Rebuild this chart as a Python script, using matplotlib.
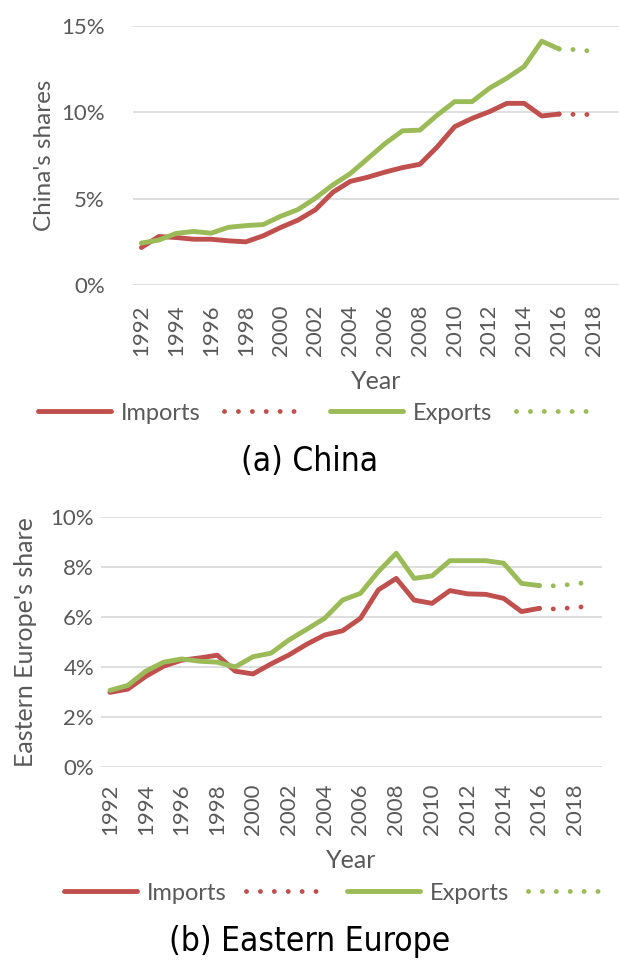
import numpy as np
import matplotlib.pyplot as plt
from matplotlib.ticker import PercentFormatter

# data (shares in %)
years = list(range(1992, 2017))

china_imports = [2.17, 2.81, 2.75, 2.65, 2.65, 2.56, 2.50, 2.85, 3.33, 3.76, 4.36, 5.37, 6.00,
                 6.24, 6.54, 6.80, 6.99, 8.00, 9.17, 9.65, 10.04, 10.52, 10.52, 9.79, 9.90]
china_exports = [2.43, 2.60, 2.99, 3.10, 3.00, 3.34, 3.44, 3.50, 3.98, 4.37, 5.03, 5.80, 6.45,
                 7.32, 8.19, 8.93, 8.97, 9.84, 10.62, 10.62, 11.40, 11.98, 12.66, 14.12, 13.67]
china_proj_years = [2016, 2017, 2018]
china_imports_proj = [9.90, 9.88, 9.87]
china_exports_proj = [13.67, 13.63, 13.53]

ee_imports = [2.98, 3.11, 3.62, 4.03, 4.27, 4.36, 4.47, 3.83, 3.72, 4.12, 4.48, 4.91, 5.28,
              5.45, 5.95, 7.09, 7.55, 6.68, 6.55, 7.06, 6.93, 6.91, 6.75, 6.22, 6.35]
ee_exports = [3.06, 3.26, 3.83, 4.19, 4.32, 4.23, 4.19, 4.00, 4.41, 4.55, 5.08, 5.51, 5.95,
              6.68, 6.95, 7.82, 8.56, 7.55, 7.65, 8.26, 8.26, 8.26, 8.16, 7.35, 7.26]
ee_proj_years = [2016, 2017, 2018, 2019]
ee_imports_proj = [6.35, 6.32, 6.39, 6.44]
ee_exports_proj = [7.26, 7.25, 7.33, 7.42]

tick_years = list(range(1992, 2019, 2))
legend_labels = ['Imports', '', 'Exports', '']

# style
red = '#c0504d'
green = '#9bbb59'
gray = '#595959'
grid_col = '#d9d9d9'
dots = (0, (0.01, 2.85))
plt.rcParams['font.family'] = ['Lato', 'DejaVu Sans']

fig = plt.figure(figsize=(6.19, 9.63), dpi=100)
W, H = 619.0, 963.0

def make_panel(rect, imp, exp, pyears, imp_p, exp_p, ymax, ystep, ylabel, ylab_size,
               ylab_x, ytick_pad, xtick_pad, leg_xy, leg_sp, caption, cap_y):
    l, r, t, b = rect
    ax = fig.add_axes([l / W, 1 - b / H, (r - l) / W, (b - t) / H])
    h1, = ax.plot(years, imp, color=red, lw=3.5, solid_joinstyle='round', solid_capstyle='round')
    h2, = ax.plot(pyears, imp_p, color=red, lw=3.5, linestyle=dots, dash_capstyle='round')
    h3, = ax.plot(years, exp, color=green, lw=3.5, solid_joinstyle='round', solid_capstyle='round')
    h4, = ax.plot(pyears, exp_p, color=green, lw=3.5, linestyle=dots, dash_capstyle='round')
    ax.set_xlim(1991.5, 2019.5)
    ax.set_ylim(0, ymax)
    ax.set_yticks(np.arange(0, ymax + 0.01, ystep))
    ax.yaxis.set_major_formatter(PercentFormatter(decimals=0))
    ax.set_xticks(tick_years)
    ax.set_xticklabels([str(y) for y in tick_years], rotation=90)
    ax.grid(axis='y', color=grid_col, lw=1.2)
    ax.set_axisbelow(True)
    for s in ax.spines.values():
        s.set_visible(False)
    ax.tick_params(length=0, labelsize=16, colors=gray)
    ax.tick_params(axis='y', pad=ytick_pad)
    ax.tick_params(axis='x', pad=xtick_pad)
    ax.set_ylabel(ylabel, fontsize=ylab_size, color=gray)
    ax.yaxis.set_label_coords(ylab_x, 0.5)
    ax.set_xlabel('Year', fontsize=18, color=gray, labelpad=10)
    ax.legend([h1, h2, h3, h4], legend_labels, loc='center', bbox_to_anchor=leg_xy,
              bbox_transform=fig.transFigure, ncol=4, frameon=False, fontsize=17,
              handlelength=3.1, handletextpad=0.4, columnspacing=leg_sp, labelcolor=gray)
    fig.text(0.5, cap_y, caption, ha='center', va='center', fontsize=24,
             family=['Liberation Sans Narrow', 'DejaVu Sans'], stretch='condensed',
             color='black')
    return ax

make_panel((132.7, 620, 26, 285), china_imports, china_exports, china_proj_years,
           china_imports_proj, china_exports_proj, 15, 5, "China's shares", 17.5,
           -0.16, 20, 14, (0.514, 1 - 413 / H), 1.0, '(a) China', 1 - 461 / H)

make_panel((101, 602, 517.3, 766.7), ee_imports, ee_exports, ee_proj_years,
           ee_imports_proj, ee_exports_proj, 10, 2, "Eastern Europe's share", 18,
           -0.128, 5, 12, (0.545, 1 - 893 / H), 0.8, '(b) Eastern Europe', 1 - 941 / H)

fig.savefig('out.png', dpi=100)
